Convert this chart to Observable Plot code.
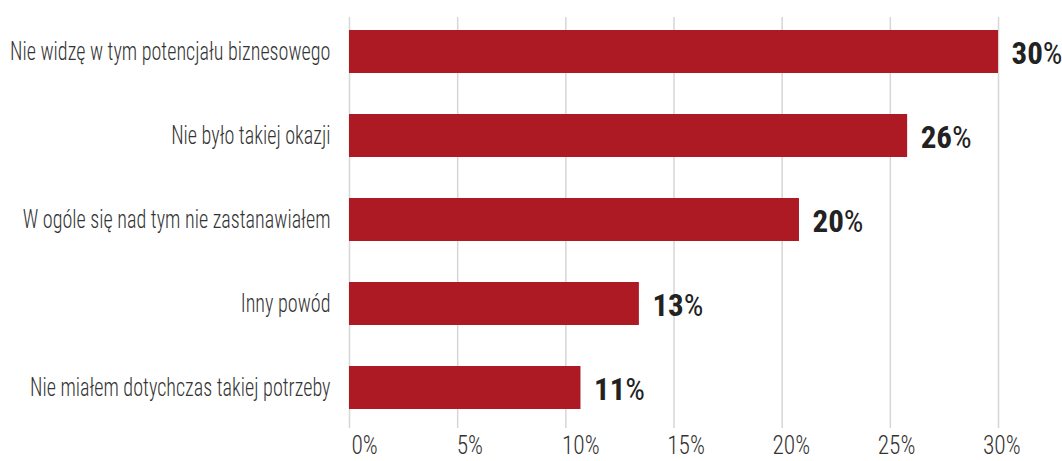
<!DOCTYPE html>
<html><head><meta charset="utf-8">
<script src="https://cdn.jsdelivr.net/npm/d3@7"></script>
<script src="https://cdn.jsdelivr.net/npm/@observablehq/plot@0.6"></script>
<style>body{margin:0;background:#fff}</style>
</head><body><div id="chart"></div>
<script>
const categories = [
  "Nie widzę w tym potencjału biznesowego",
  "Nie było takiej okazji",
  "W ogóle się nad tym nie zastanawiałem",
  "Inny powód",
  "Nie miałem dotychczas takiej potrzeby"
];
const values = [30.0, 25.8, 20.8, 13.4, 10.7];
const valueLabels = ["30%", "26%", "20%", "13%", "11%"];
const xTicks = [0, 5, 10, 15, 20, 25, 30];
const tickLabels = ["0%", "5%", "10%", "15%", "20%", "25%", "30%"];

const data = categories.map((c, i) => ({category: c, value: values[i], label: valueLabels[i]}));
const ticks = xTicks.map((t, i) => ({t, label: tickLabels[i]}));
const font = '"Roboto Condensed", Roboto, "DejaVu Sans Condensed", sans-serif';

const chart = Plot.plot({
  width: 1062, height: 461,
  marginLeft: 349, marginRight: 64, marginTop: 17, marginBottom: 33,
  style: {fontFamily: font, fontSize: "22px", color: "#333", background: "#fff"},
  x: {domain: [0, 30], axis: null},
  y: {domain: categories, paddingInner: 0.49, paddingOuter: 0, insetTop: 12, insetBottom: 19, label: null},
  marks: [
    Plot.gridX(xTicks, {stroke: "#d6d6d6", strokeOpacity: 1, strokeWidth: 1.5}),
    Plot.barX(data, {x: "value", y: "category", fill: "#ad1a24"}),
    Plot.text(data, {x: "value", y: "category", text: "label", textAnchor: "start", dx: 13, dy: 2, fill: "#222", fontSize: 31, className: "vals"}),
    Plot.text(ticks, {x: d => d.t * 0.973, text: "label", frameAnchor: "bottom", lineAnchor: "top", textAnchor: "start", dx: 2, dy: 7, fontSize: 26, fontWeight: 300, fill: "#333", className: "xticks"}),
    Plot.axisY({tickSize: 0, tickPadding: 19, fontSize: 25, fontWeight: 300, label: null, className: "ycats"})
  ]
});
chart.querySelectorAll("g.vals text").forEach(t => {
  const s = t.textContent;
  const num = s.replace("%", "");
  t.textContent = "";
  const a = document.createElementNS("http://www.w3.org/2000/svg", "tspan");
  a.setAttribute("font-weight", "bold");
  a.textContent = num;
  const b = document.createElementNS("http://www.w3.org/2000/svg", "tspan");
  b.setAttribute("font-weight", "normal");
  b.textContent = "%";
  t.appendChild(a); t.appendChild(b);
});
document.getElementById("chart").appendChild(chart);

function squeeze(selector, s, anchor) {
  chart.querySelectorAll(selector).forEach(t => {
    const r = t.getBoundingClientRect();
    const ax = anchor === "end" ? r.right : anchor === "start" ? r.left : (r.left + r.right) / 2;
    const m = t.parentNode.getScreenCTM().inverse();
    const p = new DOMPoint(ax, 0).matrixTransform(m);
    const g = document.createElementNS("http://www.w3.org/2000/svg", "g");
    g.setAttribute("transform", `translate(${p.x},0) scale(${s},1) translate(${-p.x},0)`);
    t.parentNode.insertBefore(g, t);
    g.appendChild(t);
  });
}
squeeze("g.ycats text", 0.805, "end");
squeeze("g.xticks text", 0.9, "start");
</script>
</body></html>
